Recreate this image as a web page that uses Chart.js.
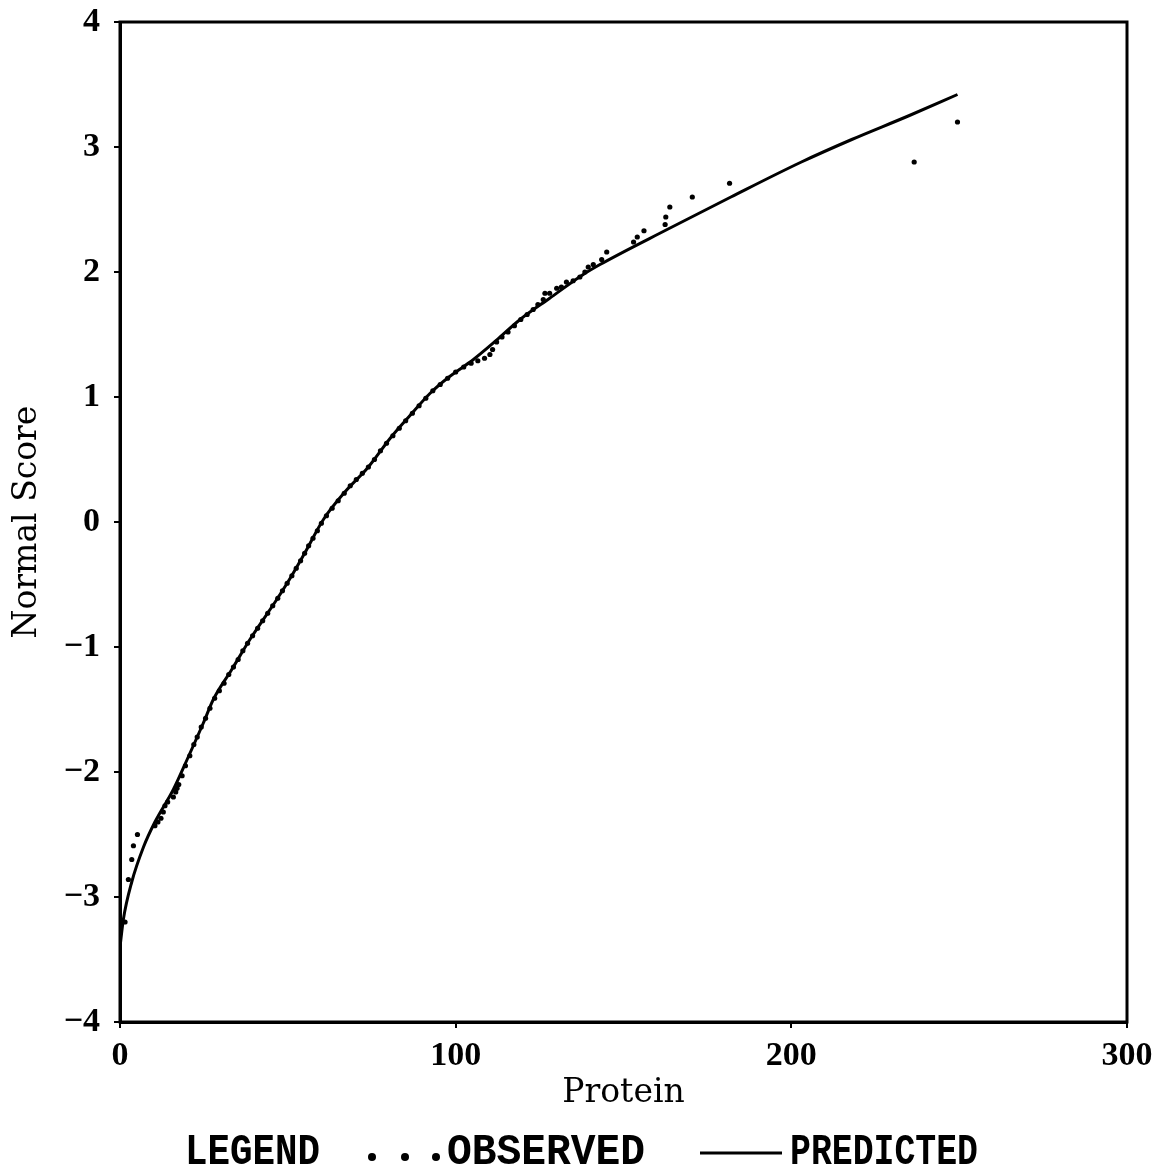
<!DOCTYPE html>
<html>
<head>
<meta charset="utf-8">
<script src="https://cdn.jsdelivr.net/npm/chart.js@4.4.1/dist/chart.umd.min.js"></script>
<style>
  html, body { margin: 0; padding: 0; background: #fff; }
  canvas { display: block; }
</style>
</head>
<body>
<canvas id="c" width="1169" height="1173"></canvas>
<script>
// protein (x) vs normal score (y)
const observedX = [1.5, 2.5, 3.5, 4.0, 5.2, 10.4, 11.3, 12.2, 12.9, 13.4, 14.2, 15.9, 16.6, 17.0, 17.5, 18.5, 19.5, 20.8,
  22.0, 23.0, 24.2, 25.5, 26.8, 28.2, 29.6, 31.0, 32.4, 33.8, 35.2, 36.6, 38.0, 39.5, 41.0, 42.5, 44.0, 45.5, 47.0,
  48.4, 49.8, 51.2, 52.5, 53.8, 55.0, 56.2, 57.5, 58.8, 60.0, 61.5, 63.2, 65.0, 66.8, 68.6, 70.4, 72.2, 74.0, 75.8,
  77.6, 79.4, 81.3, 83.2, 85.1, 87.1, 89.1, 91.1, 93.2, 95.4, 97.6, 100.0, 102.4, 104.6, 106.6, 108.6, 110.2, 111.0,
  112.2, 113.8, 115.6, 117.5, 119.4, 121.3, 123.1, 124.5, 126.1, 126.6, 128.0, 130.1, 131.5, 133.0, 135.0, 137.0,
  138.5, 139.5, 141.0, 143.5, 145.0, 153.0, 154.1, 156.1, 162.4, 162.6, 163.8, 170.5, 181.6, 236.6, 249.5];
const observedY = [-3.2, -2.86, -2.7, -2.59, -2.5, -2.43, -2.4, -2.37, -2.32, -2.27, -2.24, -2.2, -2.16, -2.13, -2.1,
  -2.03, -1.95, -1.87, -1.78, -1.72, -1.64, -1.57, -1.49, -1.41, -1.35, -1.29, -1.22, -1.16, -1.1, -1.03, -0.97, -0.91,
  -0.85, -0.79, -0.73, -0.67, -0.61, -0.55, -0.49, -0.43, -0.37, -0.31, -0.25, -0.19, -0.13, -0.07, -0.01, 0.05, 0.11,
  0.17, 0.23, 0.29, 0.34, 0.39, 0.44, 0.5, 0.57, 0.63, 0.69, 0.75, 0.81, 0.87, 0.93, 0.99, 1.05, 1.1, 1.15, 1.2, 1.24,
  1.27, 1.29, 1.31, 1.34, 1.38, 1.44, 1.48, 1.52, 1.57, 1.62, 1.66, 1.7, 1.74, 1.78, 1.83, 1.83, 1.87, 1.88, 1.92, 1.93,
  1.96, 2.0, 2.04, 2.06, 2.1, 2.16, 2.24, 2.28, 2.33, 2.38, 2.44, 2.52, 2.6, 2.71, 2.88, 3.2];

const predictedX = [0, 1, 3.5, 7, 10.4, 15.9, 20, 24.8, 27.8, 33.3, 38.7, 46.7, 50.7, 55, 60.6, 67, 74, 80.5, 86,
  92.4, 98, 105.3, 112, 119.2, 128, 138, 143, 163, 182, 203, 218, 235, 249.5];
const predictedY = [-3.4, -3.18, -2.88, -2.6, -2.4, -2.14, -1.9, -1.61, -1.42, -1.18, -0.94, -0.62, -0.45, -0.25, 0.02,
  0.24, 0.44, 0.67, 0.84, 1.03, 1.16, 1.3, 1.45, 1.62, 1.79, 1.98, 2.06, 2.34, 2.6, 2.88, 3.06, 3.25, 3.42];

const xTicks = [0, 100, 200, 300];
const yTicks = [-4, -3, -2, -1, 0, 1, 2, 3, 4];

const tickFont = { family: "'Liberation Serif', serif", size: 34, weight: "bold" };
const titleFont = { family: "'DejaVu Serif', serif", size: 33 };

// legend words: text, left edge, width in the original
const legendWords = [["LEGEND", 185, 135], ["OBSERVED", 447, 198], ["PREDICTED", 790, 188]];

// frame around the plot + the text legend under the axis
const framePlugin = {
  id: "frame",
  afterDraw(chart) {
    const ctx = chart.ctx;
    const a = chart.chartArea;
    ctx.save();
    ctx.strokeStyle = "#000";
    ctx.lineWidth = 3;
    ctx.strokeRect(a.left, a.top, a.right - a.left, a.bottom - a.top);

    const y = 1150;
    ctx.fillStyle = "#000";
    ctx.beginPath();
    ctx.moveTo(700, y + 3);
    ctx.lineTo(782, y + 3);
    ctx.stroke();
    [372, 405, 436].forEach(px => {
      ctx.beginPath();
      ctx.arc(px, y + 7, 4, 0, Math.PI * 2);
      ctx.fill();
    });
    ctx.font = "bold 35px 'Liberation Mono', monospace";
    ctx.textBaseline = "alphabetic";
    ctx.textAlign = "left";
    legendWords.forEach(([txt, x0, w]) => {
      const mw = ctx.measureText(txt).width;
      ctx.save();
      ctx.translate(x0, y + 14);
      ctx.scale(w / mw, 1.25);
      ctx.fillText(txt, 0, 0);
      ctx.restore();
    });
    ctx.restore();
  }
};

new Chart(document.getElementById("c"), {
  type: "scatter",
  data: {
    datasets: [
      {
        label: "OBSERVED",
        data: observedX.map((x, i) => ({ x: x, y: observedY[i] })),
        showLine: false,
        pointRadius: 2.6,
        pointBackgroundColor: "#000",
        pointBorderWidth: 0
      },
      {
        label: "PREDICTED",
        data: predictedX.map((x, i) => ({ x: x, y: predictedY[i] })),
        showLine: true,
        borderColor: "#000",
        borderWidth: 3,
        pointRadius: 0,
        cubicInterpolationMode: "monotone"
      }
    ]
  },
  options: {
    responsive: false,
    animation: false,
    layout: { padding: { top: 22, right: 42, bottom: 60, left: 0 } },
    plugins: { legend: { display: false }, tooltip: { enabled: false } },
    scales: {
      x: {
        type: "linear",
        min: 0,
        max: 300,
        afterBuildTicks: s => { s.ticks = xTicks.map(v => ({ value: v })); },
        afterFit: s => { s.height = 91; s.paddingLeft = 0; s.paddingRight = 0; },
        border: { color: "#000", width: 3 },
        grid: { drawOnChartArea: false, drawTicks: true, tickLength: 6, tickColor: "#000", lineWidth: 2 },
        ticks: { color: "#000", padding: 8, font: tickFont, maxRotation: 0 },
        title: { display: true, text: "Protein", color: "#000", font: titleFont, padding: { top: 2, bottom: 0 } }
      },
      y: {
        type: "linear",
        min: -4,
        max: 4,
        afterBuildTicks: s => { s.ticks = yTicks.map(v => ({ value: v })); },
        afterFit: s => { s.width = 120; s.paddingTop = 0; s.paddingBottom = 0; },
        border: { color: "#000", width: 3 },
        grid: { drawOnChartArea: false, drawTicks: true, tickLength: 6, tickColor: "#000", lineWidth: 2 },
        ticks: {
          color: "#000", padding: 14, font: tickFont,
          callback: v => (v < 0 ? "\u2212" + Math.abs(v) : String(v))
        },
        title: { display: true, text: "Normal Score", color: "#000", font: titleFont, padding: { top: 8, bottom: 0 } }
      }
    }
  },
  plugins: [framePlugin]
});
</script>
</body>
</html>
